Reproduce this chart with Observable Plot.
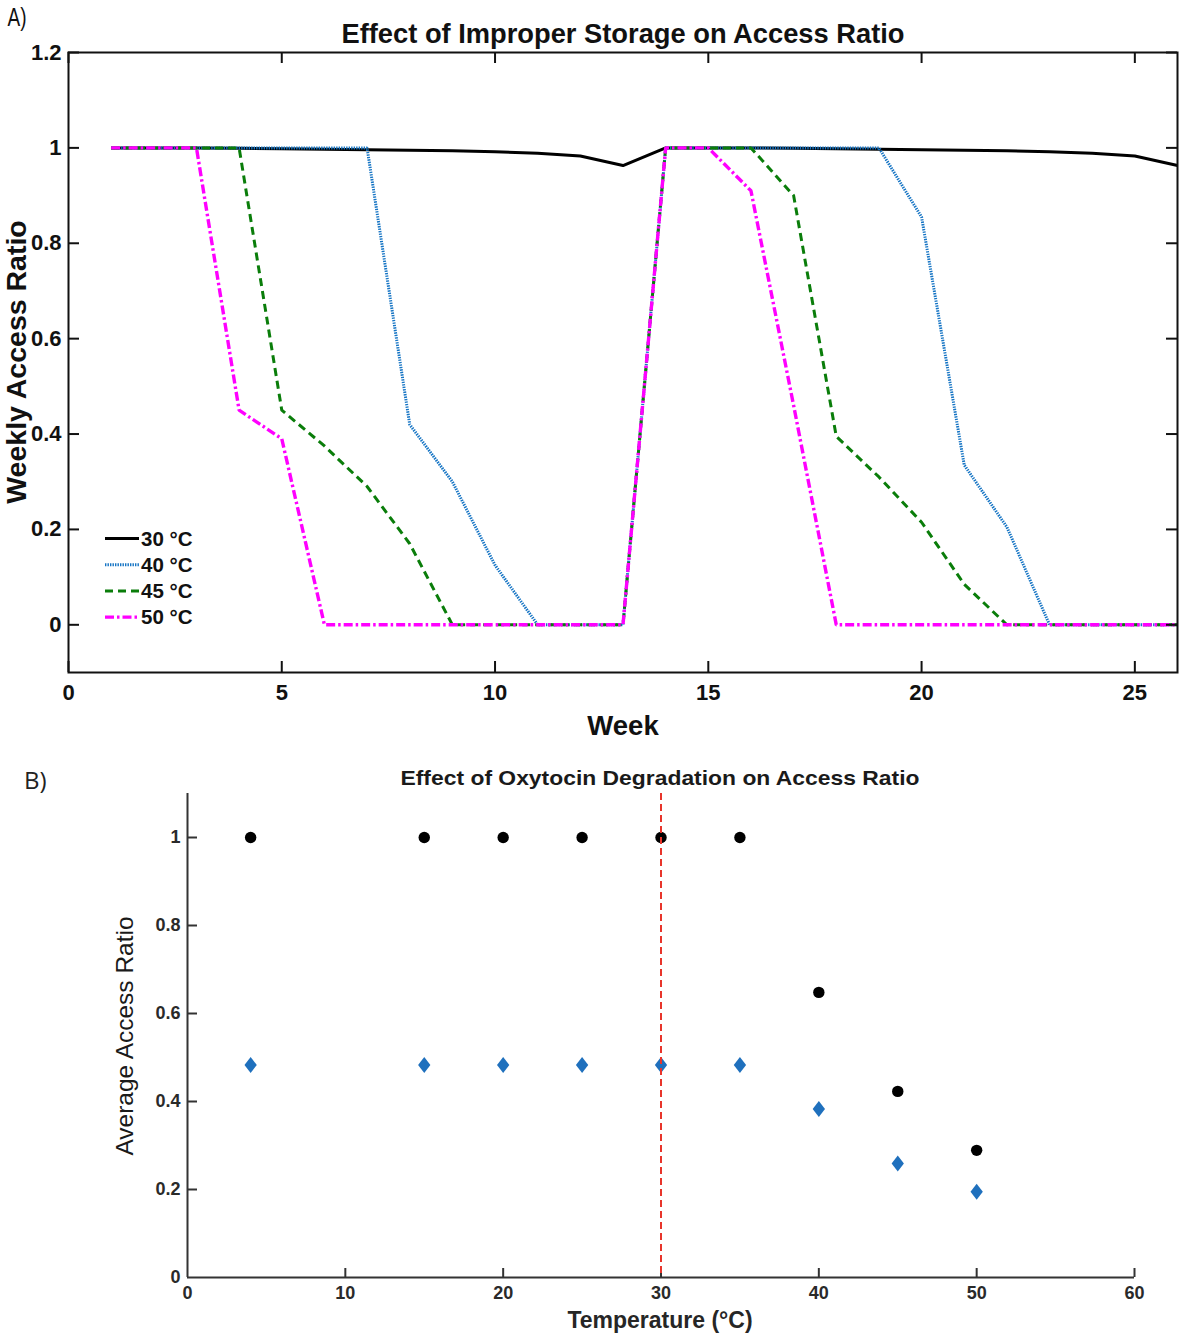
<!DOCTYPE html>
<html><head><meta charset="utf-8">
<script src="https://cdn.jsdelivr.net/npm/d3@7"></script>
<script src="https://cdn.jsdelivr.net/npm/@observablehq/plot@0.6"></script>
<style>
body{margin:0;background:#fff;width:1181px;height:1336px;position:relative;overflow:hidden;font-family:"Liberation Sans",Arial,sans-serif;}
.abs{position:absolute;}
#A{left:0;top:0}
#B{left:0;top:750px}
#legend{left:0;top:0}
.t{position:absolute;white-space:nowrap;line-height:1;color:#111;font-family:"Liberation Sans",Arial,sans-serif}
.c{transform:translate(-50%,-50%)}
.r{transform:translate(-50%,-50%) rotate(-90deg)}
</style></head><body>
<div id="A" class="abs"></div>
<div id="B" class="abs"></div>
<div id="legend" class="abs"></div>
<div class="t fit" data-w="19" data-cx="17" data-cy="17" style="font-size:26px;">A)</div>
<div class="t fit" data-w="563" data-cx="623" data-cy="34" style="font-size:28px;font-weight:bold;">Effect of Improper Storage on Access Ratio</div>
<div class="t r" style="left:16px;top:362px;font-size:28.5px;font-weight:bold;">Weekly Access Ratio</div>
<div class="t c" style="left:623px;top:726px;font-size:27.5px;font-weight:bold;">Week</div>
<div class="t" style="left:24px;top:763px;font:24px 'Open Sans','Noto Sans',sans-serif;color:#222">B)</div>
<div class="t fit" data-w="519" data-cx="660" data-cy="777" style="font-size:21px;font-weight:bold;color:#1a1a1a">Effect of Oxytocin Degradation on Access Ratio</div>
<div class="t r" style="left:125px;top:1036px;font-size:24.5px;color:#1a1a1a">Average Access Ratio</div>
<div class="t c" style="left:660px;top:1320px;font-size:23px;font-weight:bold;color:#262626">Temperature (°C)</div>
<script>
// ---------- Panel A data ----------
const weeks = [1,2,3,4,5,6,7,8,9,10,11,12,13,14,15,16,17,18,19,20,21,22,23,24,25,26];
const seriesNames = ["30 °C","40 °C","45 °C","50 °C"];
const s30 = [1,1,1,0.999,0.998,0.997,0.996,0.995,0.994,0.992,0.989,0.983,0.963,1,1,1,0.999,0.998,0.997,0.996,0.995,0.994,0.992,0.989,0.983,0.963];
const s40 = [1,1,1,1,1,1,1,0.42,0.30,0.125,0,0,0,1,1,1,1,1,1,0.855,0.335,0.205,0,0,0,0];
const s45 = [1,1,1,1,0.45,0.375,0.29,0.17,0,0,0,0,0,1,1,1,0.9,0.395,0.31,0.215,0.085,0,0,0,0,0];
const s50 = [1,1,1,0.45,0.39,0,0,0,0,0,0,0,0,1,1,0.91,0.46,0,0,0,0,0,0,0,0,0];
const xTicksA = [0,5,10,15,20,25];
const yTicksA = [0,0.2,0.4,0.6,0.8,1,1.2];

// ---------- Panel B data ----------
const temps = [4,15,20,25,30,35,40,45,50];
const circleVals = [1,1,1,1,1,1,0.648,0.423,0.289];
const diamondVals = [0.483,0.483,0.483,0.483,0.483,0.483,0.383,0.259,0.195];
const refTemp = [30];
const xTicksB = [0,10,20,30,40,50,60];
const yTicksB = [0,0.2,0.4,0.6,0.8,1];

// ---------- fit condensed titles ----------
document.querySelectorAll(".fit").forEach(el => {
  const w = el.getBoundingClientRect().width;
  const s = (+el.dataset.w) / w;
  el.style.left = el.dataset.cx + "px";
  el.style.top = el.dataset.cy + "px";
  el.style.transform = `translate(-50%,-50%) scaleX(${s})`;
});

// ---------- styles ----------
const styles = [
  {stroke:"#000000", strokeWidth:3, dash:null},
  {stroke:"#1574c4", strokeWidth:3, dash:"1.4,1.1"},
  {stroke:"#0a7d0a", strokeWidth:3, dash:"8,5"},
  {stroke:"#ff00ff", strokeWidth:3.4, dash:"9,3,2.5,3"}
];
const seriesVals = [s30,s40,s45,s50];

// ---------- Panel A ----------
const WA = 1181, HA = 750, mtA = 52, mbA = 78, mlA = 68, mrA = 4;
const innerHA = HA - mtA - mbA, innerWA = WA - mlA - mrA;
const tickLen = 11;
const lineMarks = seriesVals.map((vals, i) =>
  Plot.line(weeks.map((w, j) => ({week: w, v: vals[j]})), {
    x: "week", y: "v", stroke: styles[i].stroke, strokeWidth: styles[i].strokeWidth,
    strokeDasharray: styles[i].dash, strokeLinejoin: "miter", strokeLinecap: "butt", curve: "linear"
  }));
const plotA = Plot.plot({
  width: WA, height: HA,
  marginTop: mtA, marginBottom: mbA, marginLeft: mlA, marginRight: mrA,
  x: {domain: [0, 26]},
  y: {domain: [-0.1, 1.2]},
  style: {fontFamily: "'Liberation Sans', Arial, sans-serif", fontSize: "22px", fontWeight: "bold", color: "#111", background: "transparent", overflow: "visible"},
  marks: [
    Plot.axisX(xTicksA, {tickSize: 0, tickPadding: 12, label: null, tickFormat: d => String(d)}),
    Plot.axisY(yTicksA, {tickSize: 0, tickPadding: 7, label: null, tickFormat: d => String(d)}),
    ...lineMarks,
    Plot.tickX(xTicksA, {x: d => d, insetTop: innerHA - tickLen, stroke: "#111", strokeWidth: 2}),
    Plot.tickX(xTicksA, {x: d => d, insetBottom: innerHA - tickLen, stroke: "#111", strokeWidth: 2}),
    Plot.tickY(yTicksA, {y: d => d, insetRight: innerWA - tickLen, stroke: "#111", strokeWidth: 2}),
    Plot.tickY(yTicksA, {y: d => d, insetLeft: innerWA - tickLen, stroke: "#111", strokeWidth: 2}),
    Plot.frame({stroke: "#111", strokeWidth: 2})
  ]
});
document.getElementById("A").appendChild(plotA);

// ---------- Legend (panel A) ----------
const leg = d3.select("#legend").append("svg").attr("width", 220).attr("height", 640)
  .style("position","absolute").style("left","0px").style("top","0px");
const legY0 = 538.5, legStep = 26.2;
seriesNames.forEach((name, i) => {
  const y = legY0 + i * legStep;
  leg.append("line").attr("x1", 105).attr("x2", 139).attr("y1", y).attr("y2", y)
    .attr("stroke", styles[i].stroke).attr("stroke-width", styles[i].strokeWidth)
    .attr("stroke-dasharray", styles[i].dash);
  leg.append("text").attr("x", 141).attr("y", y).attr("dy", "0.36em")
    .attr("font-family", "'Liberation Sans', Arial, sans-serif").attr("font-weight", "bold")
    .attr("font-size", 20.5).attr("fill", "#111").text(name);
});

// ---------- Panel B ----------
const WB = 1181, HB = 586, mtB = 43, mbB = 59, mlB = 187, mrB = 47;
const innerHB = HB - mtB - mbB, innerWB = WB - mlB - mrB;
const tallDiamond = {
  draw(ctx, size) {
    const w = Math.sqrt(size / 2.6), h = w * 1.3;
    ctx.moveTo(0, -h); ctx.lineTo(w, 0); ctx.lineTo(0, h); ctx.lineTo(-w, 0); ctx.closePath();
  }
};
const plotB = Plot.plot({
  width: WB, height: HB,
  marginTop: mtB, marginBottom: mbB, marginLeft: mlB, marginRight: mrB,
  x: {domain: [0, 60]},
  y: {domain: [0, 1.1]},
  style: {fontFamily: "'Liberation Sans', Arial, sans-serif", fontSize: "18px", fontWeight: "bold", color: "#2a2a2a", background: "transparent", overflow: "visible"},
  marks: [
    Plot.axisX(xTicksB, {tickSize: 0, tickPadding: 9, label: null, tickFormat: d => String(d)}),
    Plot.axisY(yTicksB, {tickSize: 0, tickPadding: 7, label: null, tickFormat: d => String(d)}),
    Plot.tickX(xTicksB.filter(d => d > 0), {x: d => d, insetTop: innerHB - 9, stroke: "#333", strokeWidth: 2}),
    Plot.tickY(yTicksB.filter(d => d > 0), {y: d => d, insetRight: innerWB - 10, stroke: "#333", strokeWidth: 2}),
    Plot.ruleY([0], {stroke: "#333", strokeWidth: 2}),
    Plot.ruleX([0], {stroke: "#333", strokeWidth: 2}),
    Plot.dot(temps.map((t, i) => ({t, v: circleVals[i]})), {x: "t", y: "v", r: 5.7, fill: "#000", stroke: "none"}),
    Plot.dot(temps.map((t, i) => ({t, v: diamondVals[i]})), {x: "t", y: "v", r: 5.6, symbol: tallDiamond, fill: "#1f70bd", stroke: "none"}),
    Plot.ruleX(refTemp, {x: d => d, stroke: "#e8352b", strokeWidth: 2, strokeDasharray: "7,4"})
  ]
});
document.getElementById("B").appendChild(plotB);
</script>
</body></html>
